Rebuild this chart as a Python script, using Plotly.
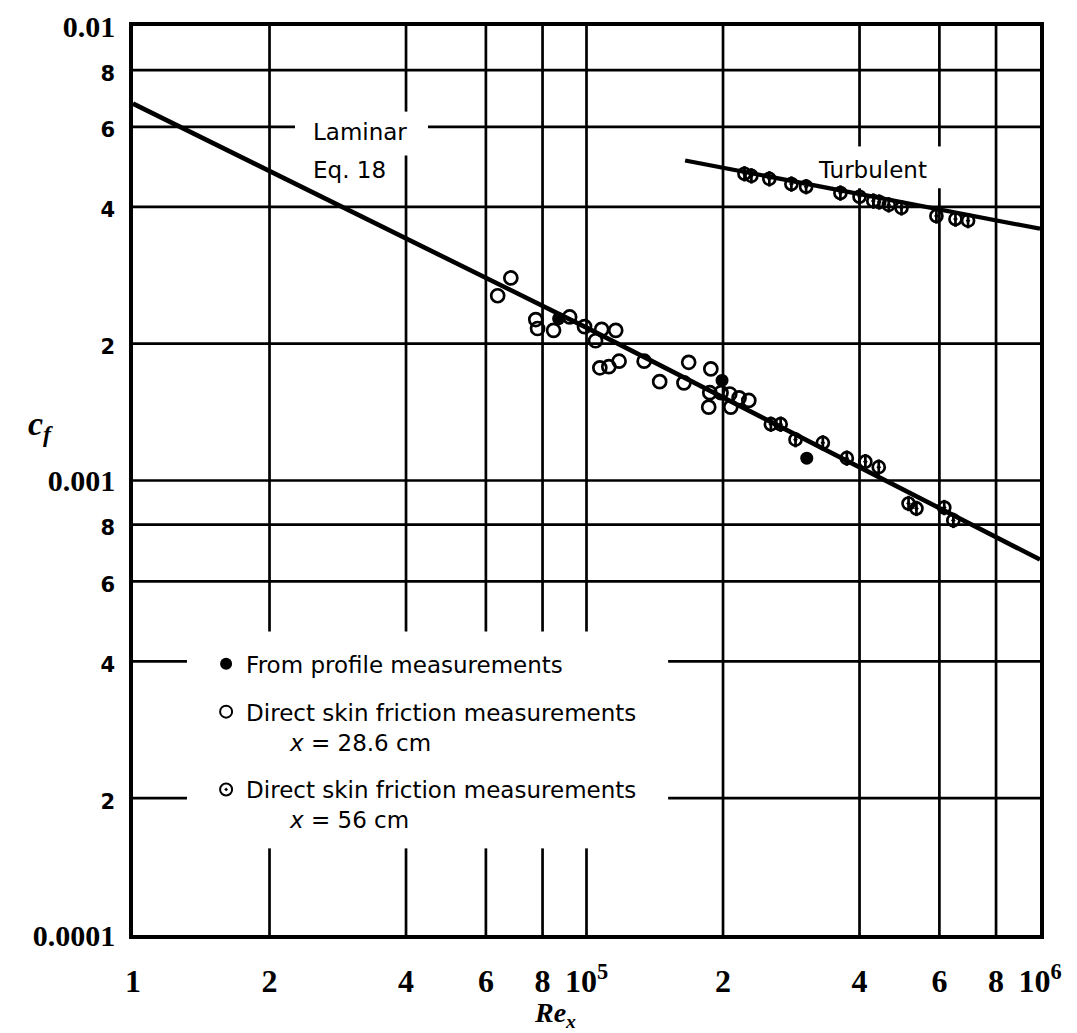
import plotly.graph_objects as go

# ---------------- data ----------------
# Laminar theory line (Eq. 18) and turbulent line
lam_re = [1e4, 1e5, 1e6]
lam_cf = [6.75e-3, 2.17e-3, 6.7e-4]
turb_re = [1.65e5, 1e6]
turb_cf = [5.06e-3, 3.58e-3]

# From profile measurements (filled)
prof_re = [8.68e4, 1.99e5, 3.06e5]
prof_cf = [2.27e-3, 1.66e-3, 1.12e-3]

# Direct skin friction, x = 28.6 cm (open)
open_re = [6.37e4, 6.81e4, 7.73e4, 7.80e4, 8.46e4, 9.18e4, 9.90e4, 1.08e5, 1.047e5,
           1.16e5, 1.07e5, 1.12e5, 1.18e5, 1.34e5, 1.45e5, 1.64e5, 1.68e5, 1.88e5,
           1.87e5, 1.98e5, 2.07e5, 2.17e5, 2.28e5, 1.86e5, 2.08e5]
open_cf = [2.55e-3, 2.79e-3, 2.26e-3, 2.16e-3, 2.14e-3, 2.29e-3, 2.18e-3, 2.15e-3, 2.03e-3,
           2.14e-3, 1.77e-3, 1.78e-3, 1.83e-3, 1.83e-3, 1.65e-3, 1.64e-3, 1.82e-3, 1.76e-3,
           1.56e-3, 1.56e-3, 1.55e-3, 1.52e-3, 1.50e-3, 1.45e-3, 1.45e-3]

# Direct skin friction, x = 56 cm (half-filled): laminar part + turbulent part
half_re = [2.55e5, 2.68e5, 2.89e5, 3.32e5, 3.75e5, 4.12e5, 4.41e5, 5.13e5, 5.34e5, 6.15e5, 6.44e5,
           2.23e5, 2.31e5, 2.53e5, 2.83e5, 3.05e5, 3.63e5, 4.0e5, 4.29e5, 4.42e5, 4.64e5,
           4.95e5, 5.91e5, 6.51e5, 6.94e5]
half_cf = [1.33e-3, 1.33e-3, 1.23e-3, 1.21e-3, 1.12e-3, 1.10e-3, 1.07e-3, 8.9e-4, 8.68e-4, 8.72e-4, 8.17e-4,
           4.73e-3, 4.68e-3, 4.61e-3, 4.49e-3, 4.43e-3, 4.29e-3, 4.21e-3, 4.12e-3, 4.10e-3, 4.04e-3,
           3.98e-3, 3.82e-3, 3.76e-3, 3.73e-3]

# Tick values and labels
x_tickvals = [1e4, 2e4, 4e4, 6e4, 8e4, 1e5, 2e5, 4e5, 6e5, 8e5, 1e6]
x_ticktext = ["1", "2", "4", "6", "8", "10<sup>5</sup>", "2", "4", "6", "8", "10<sup>6</sup>"]
y_tickvals = [1e-4, 2e-4, 4e-4, 6e-4, 8e-4, 1e-3, 2e-3, 4e-3, 6e-3, 8e-3, 1e-2]
y_ticktext = ["0.0001", "2", "4", "6", "8", "0.001", "2", "4", "6", "8", "0.01"]
y_major = ["0.0001", "0.001", "0.01"]

# grid lines (interior ones) and the gaps the original leaves for its labels
x_grid = [2e4, 4e4, 6e4, 8e4, 1e5, 2e5, 4e5, 6e5, 8e5]
y_grid = [2e-4, 4e-4, 6e-4, 8e-4, 1e-3, 2e-3, 4e-3, 6e-3, 8e-3]
LEG_GAP_Y = (0.0953, 0.334)      # y-domain gap for verticals left of the legend
LAM_GAP_Y = (0.8576, 0.9058)     # y-domain gap around "Laminar"
TURB_GAP_Y = (0.8215, 0.8675)    # y-domain gap around "Turbulent"
LEG_GAP_X = (0.0595, 0.590)      # x-domain gap for horizontals through the legend
LAM_GAP_X = (0.1786, 0.3252)     # x-domain gap for the 0.006 line at "Laminar"

fig = go.Figure()

fig.add_trace(go.Scatter(x=lam_re, y=lam_cf, mode="lines", showlegend=False,
                         line=dict(color="black", width=4.6), hoverinfo="skip"))
fig.add_trace(go.Scatter(x=turb_re, y=turb_cf, mode="lines", showlegend=False,
                         line=dict(color="black", width=4.2), hoverinfo="skip"))

fig.add_trace(go.Scatter(x=prof_re, y=prof_cf, mode="markers", name="From profile measurements",
                         legendgroup="g1",
                         marker=dict(symbol="circle", size=13, color="black")))
fig.add_trace(go.Scatter(x=open_re, y=open_cf, mode="markers",
                         name="Direct skin friction measurements<br>" + "\u00a0" * 6 + "<i>x</i> = 28.6 cm",
                         legendgroup="g2",
                         marker=dict(symbol="circle-open", size=13, color="black",
                                     line=dict(width=2.7, color="black"))))
fig.add_trace(go.Scatter(x=half_re, y=half_cf, mode="markers",
                         name="Direct skin friction measurements<br>" + "\u00a0" * 6 + "<i>x</i> = 56 cm",
                         legendgroup="g3",
                         marker=dict(symbol="circle-open-dot", size=12, color="black",
                                     line=dict(width=2.7, color="black"))))
fig.add_trace(go.Scatter(x=half_re, y=half_cf, mode="markers", showlegend=False,
                         legendgroup="g3", hoverinfo="skip",
                         marker=dict(symbol="line-ns-open", size=11, color="black",
                                     line=dict(width=2.7, color="black"))))


def ylab(t):
    if t in y_major:
        return "<b>" + t + "</b>"
    return "<span style='font-family:DejaVu Sans;font-size:21px'><b>" + t + "</b></span>"


fig.update_xaxes(type="log", range=[4, 6], tickvals=x_tickvals,
                 ticktext=["<b>" + t + "</b>" for t in x_ticktext],
                 tickfont=dict(family="Liberation Serif", size=32, color="black"),
                 ticks="", ticklabelstandoff=15, showgrid=False,
                 showline=True, linecolor="black", linewidth=3.6, mirror=True,
                 zeroline=False)
fig.update_yaxes(type="log", range=[-4, -2], tickvals=y_tickvals,
                 ticktext=[ylab(t) for t in y_ticktext],
                 tickfont=dict(family="Liberation Serif", size=30, color="black"),
                 ticks="", ticklabelstandoff=8, showgrid=False,
                 showline=True, linecolor="black", linewidth=3.6, mirror=True,
                 zeroline=False, automargin=False)

GRID = dict(color="black", width=2.7)


def segments(gaps):
    pts = [0.0]
    for g0, g1 in sorted(gaps):
        pts += [g0, g1]
    pts.append(1.0)
    return [(pts[i], pts[i + 1]) for i in range(0, len(pts), 2)]


shapes = []
for xv in x_grid:
    gaps = []
    if xv <= 1e5:
        gaps.append(LEG_GAP_Y)
    if xv == 4e4:
        gaps.append(LAM_GAP_Y)
    if xv in (4e5, 6e5):
        gaps.append(TURB_GAP_Y)
    for a, b in segments(gaps):
        shapes.append(dict(type="line", xref="x", yref="y domain", x0=xv, x1=xv,
                           y0=a, y1=b, layer="below", line=GRID))
for yv in y_grid:
    gaps = []
    if yv in (2e-4, 4e-4):
        gaps.append(LEG_GAP_X)
    if yv == 6e-3:
        gaps.append(LAM_GAP_X)
    for a, b in segments(gaps):
        shapes.append(dict(type="line", xref="x domain", yref="y", x0=a, x1=b,
                           y0=yv, y1=yv, layer="below", line=GRID))

txt_font = dict(family="DejaVu Sans", size=23, color="black")
annotations = [
    dict(text="Laminar", xref="paper", yref="paper", x=0.1965, y=0.883,
         xanchor="left", yanchor="middle", showarrow=False, font=txt_font),
    dict(text="Eq. 18", xref="paper", yref="paper", x=0.1965, y=0.842,
         xanchor="left", yanchor="middle", showarrow=False, font=txt_font),
    dict(text="Turbulent", xref="paper", yref="paper", x=0.753, y=0.842,
         xanchor="left", yanchor="middle", showarrow=False, font=txt_font),
    dict(text="<b><i>c</i></b><sub><b><i>f</i></b></sub>", xref="paper", yref="paper",
         x=-0.1025, y=0.56, xanchor="center", yanchor="middle", showarrow=False,
         font=dict(family="Liberation Serif", size=34, color="black")),
    dict(text="<b><i>Re</i></b><sub><b><i>x</i></b></sub>", xref="paper", yref="paper",
         x=0.465, y=-0.088, xanchor="center", yanchor="middle", showarrow=False,
         font=dict(family="Liberation Serif", size=28, color="black")),
]

# the page body adds an 8 px offset; margins are chosen so the plot lands where the original is
fig.update_layout(
    width=1077, height=1033,
    margin=dict(l=125, r=45, t=18, b=106),
    paper_bgcolor="white", plot_bgcolor="white",
    shapes=shapes, annotations=annotations,
    showlegend=True,
    legend=dict(x=0.0806, y=0.322, xanchor="left", yanchor="top",
                bgcolor="rgba(0,0,0,0)", borderwidth=0,
                font=dict(family="DejaVu Sans", size=23, color="black"),
                tracegroupgap=15, valign="top", itemwidth=30, itemsizing="constant"),
)

fig.write_html("out.html")
